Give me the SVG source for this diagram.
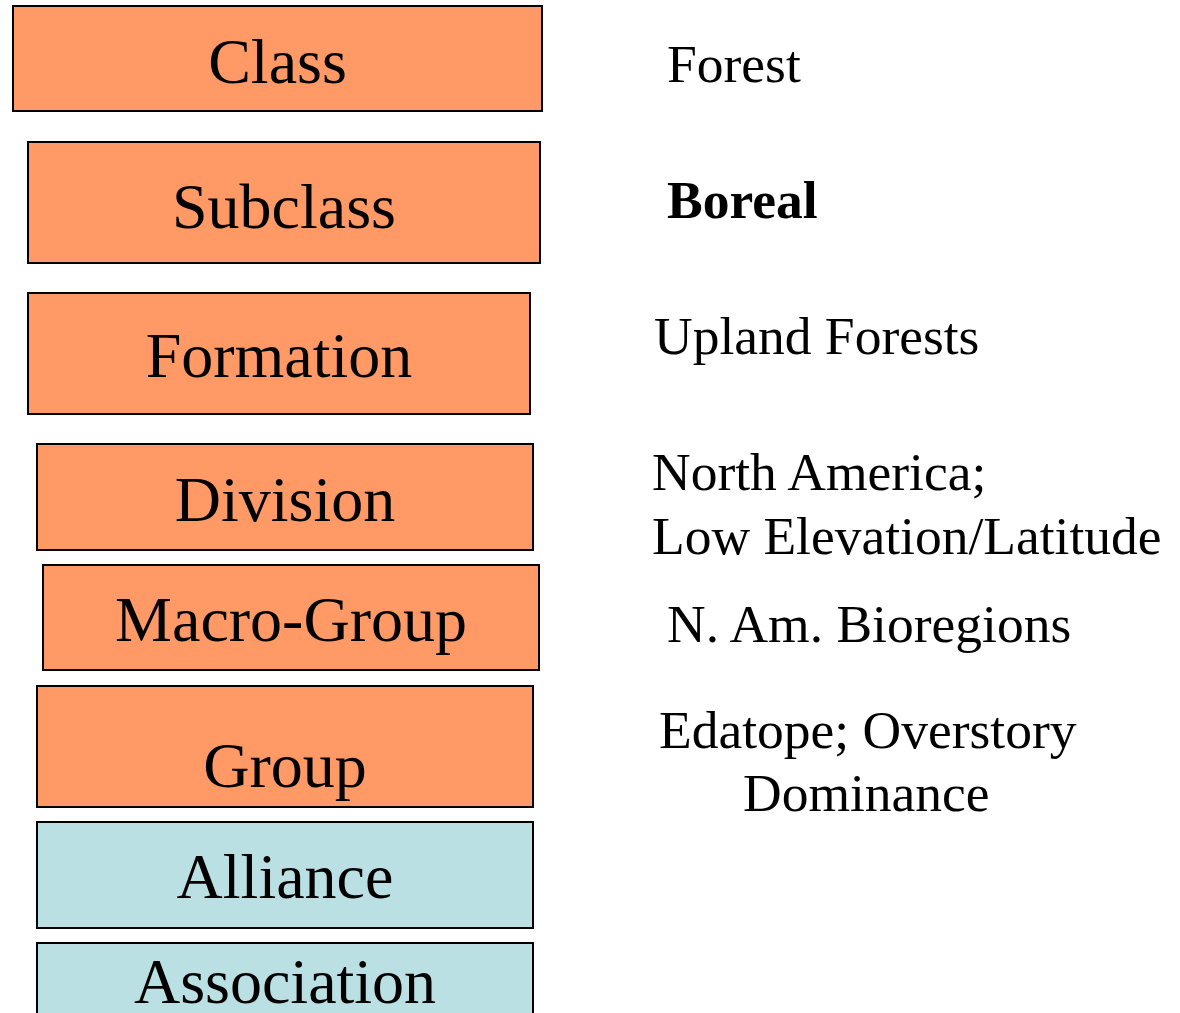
<svg xmlns="http://www.w3.org/2000/svg" width="1180" height="1013" viewBox="0 0 1180 1013">
<style>
.o{fill:#FF9966;stroke:#000;stroke-width:2}
.b{fill:#BBE0E3;stroke:#000;stroke-width:2}
.t{font-family:"Liberation Serif","Times New Roman",serif;font-size:64px;fill:#000;text-anchor:middle}
.r{font-family:"Liberation Serif","Times New Roman",serif;font-size:53.5px;fill:#000}
</style>
<rect width="1180" height="1013" fill="#fff"/>
<g id="connectors"></g>
<g id="class"><rect class="o" x="13" y="6" width="529" height="105"/><text class="t" x="277.5" y="83">Class</text></g>
<g id="subclass"><rect class="o" x="28" y="142" width="512" height="121"/><text class="t" x="284" y="228">Subclass</text></g>
<g id="formation"><rect class="o" x="28" y="293" width="502" height="121"/><text class="t" x="279" y="377">Formation</text></g>
<g id="division"><rect class="o" x="37" y="444" width="496" height="106"/><text class="t" x="285" y="521">Division</text></g>
<g id="macro-group"><rect class="o" x="43" y="565" width="496" height="105"/><text class="t" x="291" y="641">Macro-Group</text></g>
<g id="group"><rect class="o" x="37" y="686" width="496" height="121"/><text class="t" x="285" y="787">Group</text></g>
<g id="alliance"><rect class="b" x="37" y="822" width="496" height="106"/><text class="t" x="285" y="898">Alliance</text></g>
<g id="association"><rect class="b" x="37" y="943" width="496" height="100"/><text class="t" x="285" y="1003">Association</text></g>
<g id="labels">
<text class="r" x="667" y="82">Forest</text>
<text class="r" x="667" y="218" font-weight="bold">Boreal</text>
<text class="r" x="654" y="354">Upland Forests</text>
<text class="r" x="652" y="490">North America;</text>
<text class="r" x="652" y="554">Low Elevation/Latitude</text>
<text class="r" x="667" y="642">N. Am. Bioregions</text>
<text class="r" x="659" y="748">Edatope; Overstory</text>
<text class="r" x="743" y="811">Dominance</text>
</g>
</svg>
